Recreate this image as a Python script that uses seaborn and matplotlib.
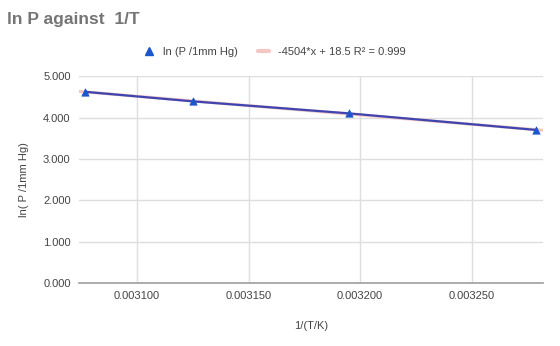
import numpy as np
import pandas as pd
import matplotlib
matplotlib.use("Agg")
import matplotlib.pyplot as plt
from matplotlib.lines import Line2D
from matplotlib.ticker import FormatStrFormatter
import seaborn as sns

inv_T = [0.0030769, 0.0031250, 0.0031949, 0.0032787]
ln_P = [4.62, 4.39, 4.10, 3.70]
series_label = "ln (P /1mm Hg)"
trend_label = "-4504*x + 18.5 R\u00b2 = 0.999"
x_ticks = [0.003100, 0.003150, 0.003200, 0.003250]
y_ticks = [0, 1, 2, 3, 4, 5]

sns.set_theme(style="white")
plt.rcParams['font.family'] = ['Liberation Sans', 'DejaVu Sans']

df = pd.DataFrame({"x": inv_T, "y": ln_P})

fig = plt.figure(figsize=(5.6, 3.46), dpi=100)
ax = fig.add_axes([0.141, 0.182, 0.829, 0.598])

xmin, xmax = 0.003074, 0.003282
coef = np.polyfit(inv_T, ln_P, 1)
tx = np.array([xmin, xmax])
trend = pd.DataFrame({"x": tx, "y": np.polyval(coef, tx)})
sns.lineplot(data=trend, x="x", y="y", ax=ax, color="#f4c7c3", linewidth=2.2, zorder=2)
sns.lineplot(data=df, x="x", y="y", ax=ax, color="#3f45b0", linewidth=1.6, zorder=3)
sns.scatterplot(data=df, x="x", y="y", ax=ax, marker="^", color="#1a56cc", s=28,
                edgecolor="#1a56cc", linewidth=0.5, zorder=4)

ax.set_xlim(xmin, xmax)
ax.set_ylim(0, 5)
ax.set_xticks(x_ticks)
ax.set_yticks(y_ticks)
ax.xaxis.set_major_formatter(FormatStrFormatter("%.6f"))
ax.yaxis.set_major_formatter(FormatStrFormatter("%.3f"))
ax.grid(True, color="#dedede", linewidth=1)
ax.set_axisbelow(True)
for s in ["top", "right", "left"]:
    ax.spines[s].set_visible(False)
ax.spines["bottom"].set_color("#9e9e9e")
ax.spines["bottom"].set_linewidth(1.2)
ax.tick_params(axis="both", length=0, labelsize=8, colors="#444444", pad=6)
ax.set_xlabel("1/(T/K)", fontsize=8, color="#444444", labelpad=14)
ax.set_ylabel("ln( P /1mm Hg)", fontsize=8, color="#444444", labelpad=10)

fig.text(0.012, 0.945, "ln P against  1/T", fontsize=12.5, fontweight="bold",
         color="#757575", va="center", ha="left")

handles = [
    Line2D([], [], marker="^", color="#1a56cc", linestyle="none", markersize=6),
    Line2D([], [], color="#f4c7c3", linewidth=3),
]
fig.legend(handles, [series_label, trend_label], loc="center", bbox_to_anchor=(0.49, 0.85),
           ncol=2, frameon=False, fontsize=8, handlelength=1.0, columnspacing=1.8,
           handletextpad=0.8, labelcolor="#444444")

fig.savefig("out.png", dpi=100, facecolor="white")
